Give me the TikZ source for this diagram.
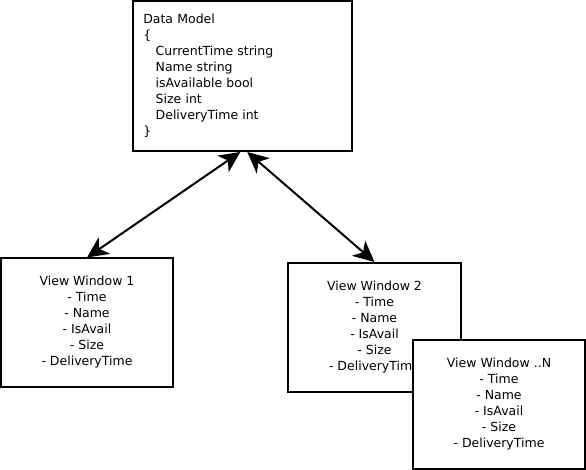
\documentclass[tikz,border=0pt]{standalone}
\usepackage{fontspec}
\setmainfont{DejaVu Sans}
\usetikzlibrary{arrows.meta,calc}
\begin{document}
\begin{tikzpicture}[x=1pt,y=-1pt,
  box/.style={draw=black,line width=2pt,fill=white,inner sep=0pt,align=center,
    font=\fontsize{12.5}{16}\selectfont},
  conn/.style={line width=2pt,{Stealth[length=21pt,width=20pt,inset=6pt]}-{Stealth[length=21pt,width=20pt,inset=6pt]}}]
\useasboundingbox (0,0) rectangle (586,470);
\node[box,minimum width=219pt,minimum height=150pt,text width=199pt,inner xsep=10pt,align=left] (dm) at (242.8,76)
 {Data Model\\
 \{\\
 \hspace*{12.4pt}CurrentTime string\\
 \hspace*{12.4pt}Name string\\
 \hspace*{12.4pt}isAvailable bool\\
 \hspace*{12.4pt}Size int\\
 \hspace*{12.4pt}DeliveryTime int\\
 \}};
\node[box,minimum width=172pt,minimum height=128pt] (vw1) at (87,322.5)
 {View Window 1\\- Time\\- Name\\- IsAvail\\- Size\\- DeliveryTime};
\node[box,minimum width=173pt,minimum height=129pt] (vw2) at (374.5,327.5)
 {View Window 2\\- Time\\- Name\\- IsAvail\\- Size\\- DeliveryTime};
\node[box,minimum width=172pt,minimum height=129pt] (vwn) at (499,404.5)
 {View Window ..N\\- Time\\- Name\\- IsAvail\\- Size\\- DeliveryTime};
\coordinate (dl) at ($(dm.south)+(-2.5,0)$);
\coordinate (dr) at ($(dm.south)+(4.5,0)$);
\draw[conn] (dl) -- (vw1.north);
\draw[conn] (dr) -- (vw2.north);
\end{tikzpicture}
\end{document}
